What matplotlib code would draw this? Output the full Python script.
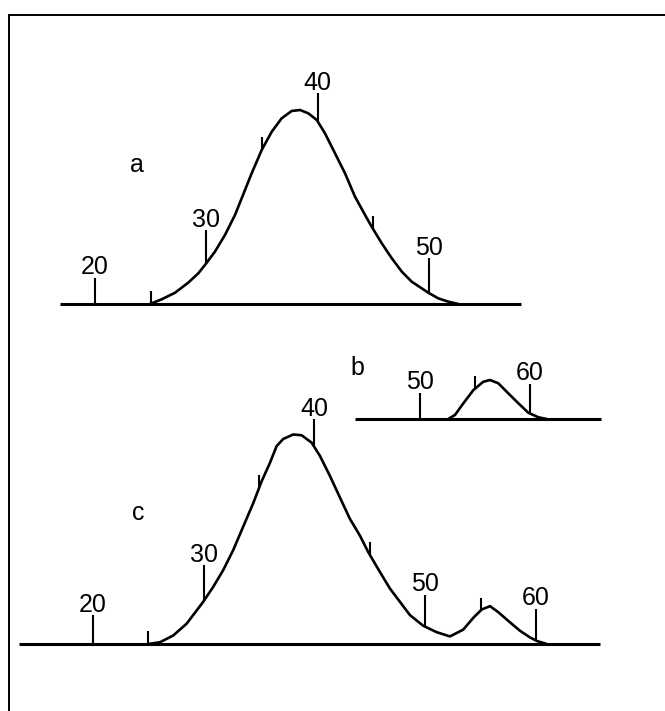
import numpy as np
import matplotlib
matplotlib.use("Agg")
import matplotlib.pyplot as plt
from matplotlib.lines import Line2D

plt.rcParams['font.family'] = ['Liberation Sans', 'DejaVu Sans']

# ---------------- data (elution volume, relative absorbance) ----------------
vol_a = [24.94, 25.99, 27.19, 28.38, 29.28, 29.88, 30.78, 31.68, 32.58, 33.48,
         34.08, 34.98, 35.88, 36.77, 37.67, 38.42, 39.16, 39.92, 40.66, 41.56,
         42.46, 43.36, 44.26, 44.86, 45.76, 46.66, 47.56, 48.45, 49.35, 49.95,
         50.84, 51.74, 52.64]
abs_a = [0.0, 2.4, 5.8, 11.0, 15.8, 20.1, 27.0, 35.6, 45.9, 58.8,
         67.4, 79.4, 88.8, 95.7, 99.5, 100.0, 98.3, 94.9, 88.0, 77.7,
         67.4, 55.3, 45.9, 39.8, 31.3, 23.6, 16.7, 11.5, 8.1, 5.8,
         2.9, 1.2, 0.0]

vol_b = [52.57, 53.18, 53.94, 54.85, 55.75, 56.36, 57.12, 58.03, 58.94, 59.85,
         60.75, 61.52]
abs_b = [0.0, 2.1, 8.1, 14.9, 19.2, 20.1, 18.4, 13.2, 8.1, 3.2,
         0.9, 0.0]

vol_c = [24.99, 26.05, 27.25, 28.46, 29.96, 30.86, 31.76, 32.67, 33.57, 34.47,
         35.23, 35.98, 36.58, 37.18, 38.08, 38.84, 39.74, 40.49, 41.39, 42.29,
         43.20, 44.10, 44.85, 45.91, 46.81, 47.72, 48.62, 49.82, 51.03, 52.23,
         53.43, 54.34, 55.10, 55.85, 56.60, 57.50, 58.56, 59.46, 60.06, 60.97]
abs_c = [0.0, 0.9, 4.4, 10.5, 21.8, 29.5, 38.1, 48.5, 60.6, 72.6,
         83.9, 93.4, 102.0, 105.7, 108.0, 107.6, 103.8, 97.0, 86.7, 75.6,
         64.5, 55.9, 47.4, 37.1, 28.6, 21.7, 14.9, 9.4, 6.1, 3.9,
         7.4, 13.5, 17.8, 19.5, 16.4, 11.9, 6.8, 3.4, 1.6, 0.0]

# volume markers
major_a = [20, 30, 40, 50]
minor_a = [25, 35, 45]
major_b = [50, 60]
minor_b = [55]
major_c = [20, 30, 40, 50, 60]
minor_c = [25, 35, 45, 55]

panel_labels = ['a', 'b', 'c']

# ---------------- layout (pixels of a 665 x 711 figure) ----------------
W, H = 665, 711
PX_PER_UNIT = 1.94          # vertical pixels per absorbance unit
fig = plt.figure(figsize=(W / 100, H / 100), dpi=100)
fig.patch.set_facecolor('white')


def make_axes(left_px, right_px, base_px, top_px, xlim):
    ax = fig.add_axes([left_px / W, 1 - base_px / H,
                       (right_px - left_px) / W, (base_px - top_px) / H])
    ax.set_xlim(*xlim)
    ax.set_ylim(0, (base_px - top_px) / PX_PER_UNIT)
    ax.axis('off')
    return ax


def draw_panel(ax, vol, ab, majors, minors, major_len_px):
    ax.axhline(0, color='black', lw=2.2, clip_on=False, solid_capstyle='butt')
    ax.plot(vol, ab, color='black', lw=1.9, clip_on=False,
            solid_joinstyle='round', solid_capstyle='round')
    for v, L in zip(majors, major_len_px):
        y0 = float(np.interp(v, vol, ab, left=0, right=0))
        y1 = y0 + L / PX_PER_UNIT
        ax.plot([v, v], [y0, y1], color='black', lw=1.5, clip_on=False,
                solid_capstyle='butt')
        ax.text(v, y1 + 3.5 / PX_PER_UNIT, str(v), ha='center', va='baseline',
                fontsize=18, color='black')
    for v in minors:
        y0 = float(np.interp(v, vol, ab, left=0, right=0))
        y1 = y0 + 13 / PX_PER_UNIT
        ax.plot([v, v], [y0, y1], color='black', lw=1.5, clip_on=False,
                solid_capstyle='butt')


# panel a
ax_a = make_axes(60, 521, 304, 40, (16.86, 58.27))
draw_panel(ax_a, vol_a, abs_a, major_a, minor_a, [26, 33, 28, 35])

# panel b
ax_b = make_axes(355, 601, 419, 340, (44.09, 66.45))
draw_panel(ax_b, vol_b, abs_b, major_b, minor_b, [26, 30])

# panel c
ax_c = make_axes(19, 600, 644, 380, (13.32, 65.78))
draw_panel(ax_c, vol_c, abs_c, major_c, minor_c, [29, 36, 28, 32, 32])

# panel letters
for lab, (x, y) in zip(panel_labels, [(137, 172.5), (357, 375), (138, 520)]):
    fig.text(x / W, 1 - y / H, lab, ha='center', va='baseline', fontsize=18)

# frame (left and top border)
fig.add_artist(Line2D([9 / W, 9 / W], [0, 1 - 15 / H], transform=fig.transFigure,
                      color='black', lw=1.4))
fig.add_artist(Line2D([9 / W, 1], [1 - 15 / H, 1 - 15 / H], transform=fig.transFigure,
                      color='black', lw=1.4))

fig.savefig('out.png', dpi=100, facecolor='white')
